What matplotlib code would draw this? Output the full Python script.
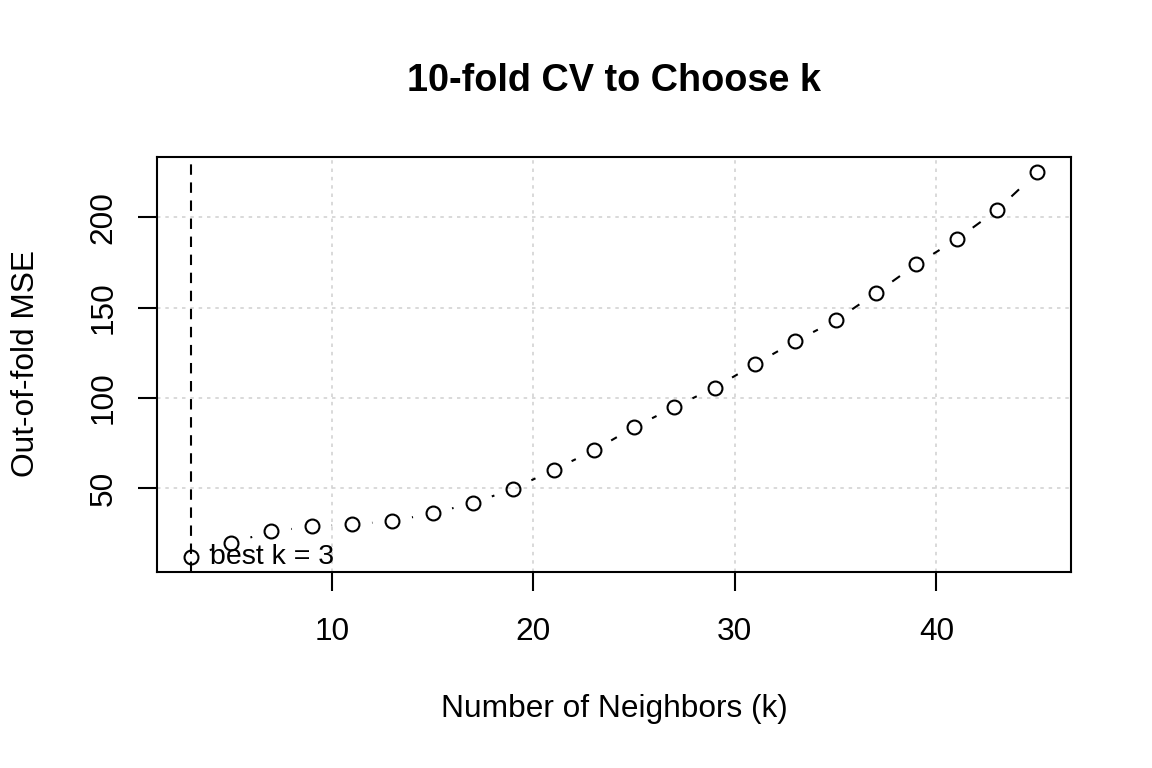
import matplotlib
matplotlib.use("Agg")
import matplotlib.pyplot as plt
import numpy as np
from matplotlib.collections import LineCollection

plt.rcParams['font.family'] = ['Liberation Sans', 'DejaVu Sans']
plt.rcParams['lines.scale_dashes'] = False

# ---- data ----
k_values = [3, 5, 7, 9, 11, 13, 15, 17, 19, 21, 23, 25, 27, 29, 31, 33, 35, 37, 39, 41, 43, 45]
cv_mse = [12.3, 19.9, 26.2, 29.0, 30.2, 31.9, 36.3, 41.9, 49.8, 60.3, 71.0,
          83.9, 95.0, 105.8, 118.7, 131.4, 142.9, 158.0, 173.9, 187.7, 203.9, 224.8]
x_ticks = [10, 20, 30, 40]
y_ticks = [50, 100, 150, 200]
best_k = 3
best_label = "best k = 3"
title = "10-fold CV to Choose k"
xlabel = "Number of Neighbors (k)"
ylabel = "Out-of-fold MSE"

W, H, DPI = 1152, 768, 100
fig = plt.figure(figsize=(W / DPI, H / DPI), dpi=DPI)
L, R, T, B = 157, 1071, 157, 572
ax = fig.add_axes([L / W, 1 - B / H, (R - L) / W, (B - T) / H])

x = np.array(k_values, dtype=float)
y = np.array(cv_mse, dtype=float)

# R-style 4% axis extension
xr = x.max() - x.min()
yr = y.max() - y.min()
ax.set_xlim(x.min() - 0.04 * xr, x.max() + 0.04 * xr)
ax.set_ylim(y.min() - 0.04 * yr, y.max() + 0.04 * yr)

# grid
for gx in x_ticks:
    ax.axvline(gx, color='#D3D3D3', lw=1.2, dashes=(2.5, 3.5), zorder=1)
for gy in y_ticks:
    ax.axhline(gy, color='#D3D3D3', lw=1.2, dashes=(2.5, 3.5), zorder=1)

# vertical line at best k
ax.axvline(best_k, color='black', lw=1.5, dashes=(7.5, 5.5), zorder=2)

# type="b" line: dashed segments with gaps around the points
fig.canvas.draw()
pts = ax.transData.transform(np.column_stack([x, y]))
gap = 20.0
segs = []
for i in range(len(pts) - 1):
    p0, p1 = pts[i], pts[i + 1]
    d = p1 - p0
    dist = np.hypot(*d)
    if dist > 2 * gap:
        u = d / dist
        a = p0 + u * gap
        b = p1 - u * gap
        segs.append(ax.transData.inverted().transform(np.array([a, b])))
lc = LineCollection(segs, colors='black', linewidths=1.5, zorder=3)
lc.set_dashes([(0, (7.5, 5.5))])
ax.add_collection(lc)

ax.plot(x, y, linestyle='none', marker='o', markersize=10, markerfacecolor='none',
        markeredgecolor='black', markeredgewidth=1.5, zorder=4)

ax.annotate(best_label, xy=(best_k, cv_mse[0]), xytext=(14, 0), textcoords='offset points',
            ha='left', va='center', fontsize=20.5)

# axes styling
ax.set_xticks(x_ticks)
ax.set_yticks(y_ticks)
ax.set_xticklabels([str(t) for t in x_ticks], fontsize=22.8)
ax.set_yticklabels([str(t) for t in y_ticks], fontsize=22.8, rotation=90, va='center')
ax.tick_params(axis='both', direction='out', length=13.5, width=1.5, color='black')
ax.tick_params(axis='x', pad=19)
ax.tick_params(axis='y', pad=14)
for s in ax.spines.values():
    s.set_linewidth(1.5)

fig.text(614 / W, 1 - 81 / H, title, ha='center', va='center', fontsize=27.3, fontweight='bold')
fig.text(614 / W, 1 - 709 / H, xlabel, ha='center', va='center', fontsize=22.8)
fig.text(26 / W, 1 - 364 / H, ylabel, ha='center', va='center', fontsize=22.8, rotation=90)

fig.savefig("out.png", dpi=DPI)
